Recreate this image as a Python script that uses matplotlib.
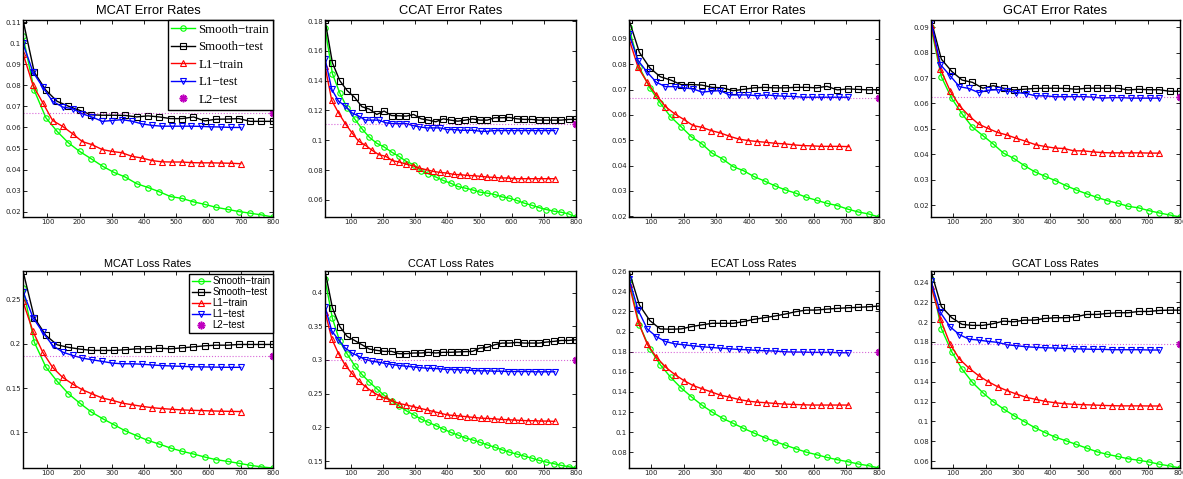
import matplotlib
matplotlib.use("Agg")
import matplotlib.pyplot as plt
import matplotlib.ticker as plticker

# x positions (smooth runs go to 800, L1 runs stop earlier)
mcat_x_smooth = [24, 59, 95, 130, 165, 200, 236, 271, 306, 341, 377, 412, 447, 482, 518, 553, 588, 623, 659, 694, 729, 764, 800]
mcat_x_l1 = [24, 55, 85, 116, 147, 178, 208, 239, 270, 301, 331, 362, 393, 424, 454, 485, 516, 547, 577, 608, 639, 670, 700]
ccat_x_smooth = [19, 42, 65, 88, 111, 134, 157, 180, 203, 226, 249, 272, 295, 318, 341, 364, 387, 410, 432, 455,
                 478, 501, 524, 547, 570, 593, 616, 639, 662, 685, 708, 731, 754, 777, 800]
ccat_x_l1 = [19, 40, 61, 82, 103, 124, 145, 166, 187, 208, 229, 250, 271, 292, 313, 335, 356, 377, 398, 419,
             440, 461, 482, 503, 524, 545, 566, 587, 608, 629, 650, 671, 692, 713, 734]
ecat_x_smooth = [31, 63, 95, 127, 159, 191, 223, 255, 287, 319, 351, 383, 415, 448, 480, 512, 544, 576, 608, 640, 672, 704, 736, 768, 800]
ecat_x_l1 = [31, 59, 87, 115, 143, 172, 200, 228, 256, 284, 312, 340, 368, 397, 425, 453, 481, 509, 537, 565, 593, 622, 650, 678, 706]
gcat_x_smooth = [31, 63, 95, 127, 159, 191, 223, 255, 287, 319, 351, 383, 415, 448, 480, 512, 544, 576, 608, 640, 672, 704, 736, 768, 800]
gcat_x_l1 = [31, 60, 90, 119, 148, 178, 207, 237, 266, 295, 325, 354, 383, 413, 442, 472, 501, 530, 560, 589, 618, 648, 677, 707, 736]

# ---- error rates ----
mcat_err_smooth_train = [0.1033, 0.0776, 0.0646, 0.0581, 0.0527, 0.0486, 0.0451, 0.0416, 0.0387, 0.0365, 0.0333, 0.0315, 0.0295,
                         0.0272, 0.0263, 0.0247, 0.0235, 0.0221, 0.0211, 0.0201, 0.0193, 0.0185, 0.0175]
mcat_err_smooth_test = [0.1110, 0.0862, 0.0777, 0.0724, 0.0701, 0.0681, 0.0660, 0.0658, 0.0658, 0.0657, 0.0650, 0.0655, 0.0650,
                        0.0642, 0.0642, 0.0650, 0.0631, 0.0639, 0.0640, 0.0642, 0.0629, 0.0629, 0.0629]
mcat_err_l1_train = [0.0951, 0.0800, 0.0718, 0.0633, 0.0605, 0.0570, 0.0533, 0.0518, 0.0495, 0.0486, 0.0480, 0.0463, 0.0455,
                     0.0443, 0.0437, 0.0436, 0.0436, 0.0433, 0.0432, 0.0432, 0.0431, 0.0430, 0.0428]
mcat_err_l1_test = [0.0999, 0.0863, 0.0792, 0.0724, 0.0697, 0.0689, 0.0665, 0.0649, 0.0629, 0.0633, 0.0637, 0.0630, 0.0617,
                    0.0610, 0.0606, 0.0606, 0.0606, 0.0606, 0.0605, 0.0603, 0.0602, 0.0600, 0.0600]
mcat_err_l2 = 0.0670

ccat_err_smooth_train = [0.1755, 0.1447, 0.1317, 0.1218, 0.1144, 0.1077, 0.1020, 0.0980, 0.0955, 0.0921, 0.0892, 0.0858,
                         0.0836, 0.0795, 0.0775, 0.0753, 0.0730, 0.0712, 0.0690, 0.0679, 0.0667, 0.0652, 0.0645, 0.0636,
                         0.0620, 0.0611, 0.0596, 0.0578, 0.0564, 0.0548, 0.0535, 0.0524, 0.0517, 0.0506, 0.0485]
ccat_err_smooth_test = [0.1807, 0.1520, 0.1400, 0.1333, 0.1288, 0.1225, 0.1209, 0.1173, 0.1196, 0.1166, 0.1164, 0.1162,
                        0.1173, 0.1144, 0.1135, 0.1124, 0.1144, 0.1135, 0.1128, 0.1135, 0.1144, 0.1135, 0.1135, 0.1151,
                        0.1151, 0.1153, 0.1144, 0.1140, 0.1140, 0.1135, 0.1135, 0.1135, 0.1135, 0.1140, 0.1140]
ccat_err_l1_train = [0.1499, 0.1267, 0.1184, 0.1112, 0.1049, 0.0993, 0.0966, 0.0932, 0.0903, 0.0892, 0.0863, 0.0854,
                     0.0840, 0.0829, 0.0813, 0.0802, 0.0791, 0.0784, 0.0780, 0.0771, 0.0769, 0.0764, 0.0762, 0.0758,
                     0.0753, 0.0751, 0.0747, 0.0747, 0.0742, 0.0742, 0.0742, 0.0742, 0.0742, 0.0742, 0.0742]
ccat_err_l1_test = [0.1548, 0.1342, 0.1263, 0.1229, 0.1184, 0.1162, 0.1135, 0.1135, 0.1135, 0.1117, 0.1112, 0.1112,
                    0.1112, 0.1099, 0.1090, 0.1083, 0.1083, 0.1083, 0.1072, 0.1072, 0.1067, 0.1067, 0.1067, 0.1060,
                    0.1060, 0.1065, 0.1065, 0.1065, 0.1065, 0.1065, 0.1065, 0.1065, 0.1065, 0.1065, 0.1065]
ccat_err_l2 = 0.1112

ecat_err_smooth_train = [0.0946, 0.0788, 0.0707, 0.0647, 0.0593, 0.0554, 0.0514, 0.0486, 0.0449, 0.0426, 0.0396, 0.0380,
                         0.0357, 0.0339, 0.0320, 0.0304, 0.0291, 0.0275, 0.0263, 0.0251, 0.0242, 0.0228, 0.0217, 0.0209, 0.0197]
ecat_err_smooth_test = [0.0975, 0.0847, 0.0786, 0.0751, 0.0738, 0.0720, 0.0720, 0.0718, 0.0709, 0.0707, 0.0696, 0.0701,
                        0.0707, 0.0709, 0.0707, 0.0707, 0.0709, 0.0709, 0.0707, 0.0713, 0.0699, 0.0703, 0.0701, 0.0699, 0.0700]
ecat_err_l1_train = [0.0900, 0.0788, 0.0729, 0.0679, 0.0633, 0.0604, 0.0582, 0.0558, 0.0551, 0.0538, 0.0529, 0.0516,
                     0.0505, 0.0499, 0.0495, 0.0492, 0.0488, 0.0486, 0.0482, 0.0479, 0.0478, 0.0476, 0.0476, 0.0476, 0.0475]
ecat_err_l1_test = [0.0920, 0.0815, 0.0769, 0.0729, 0.0712, 0.0712, 0.0707, 0.0703, 0.0690, 0.0694, 0.0696, 0.0679,
                    0.0679, 0.0679, 0.0676, 0.0679, 0.0676, 0.0674, 0.0673, 0.0670, 0.0670, 0.0670, 0.0670, 0.0670, 0.0670]
ecat_err_l2 = 0.0668

gcat_err_smooth_train = [0.0899, 0.0705, 0.0620, 0.0559, 0.0507, 0.0474, 0.0441, 0.0405, 0.0384, 0.0356, 0.0332, 0.0314,
                         0.0297, 0.0277, 0.0260, 0.0245, 0.0231, 0.0218, 0.0208, 0.0196, 0.0190, 0.0179, 0.0170, 0.0162, 0.0154]
gcat_err_smooth_test = [0.0928, 0.0774, 0.0726, 0.0692, 0.0683, 0.0660, 0.0670, 0.0660, 0.0653, 0.0656, 0.0659, 0.0660,
                        0.0660, 0.0659, 0.0656, 0.0660, 0.0660, 0.0660, 0.0660, 0.0653, 0.0656, 0.0654, 0.0654, 0.0648, 0.0648]
gcat_err_l1_train = [0.0910, 0.0736, 0.0650, 0.0591, 0.0552, 0.0519, 0.0502, 0.0486, 0.0476, 0.0463, 0.0451, 0.0438,
                     0.0431, 0.0425, 0.0423, 0.0414, 0.0414, 0.0410, 0.0407, 0.0406, 0.0406, 0.0406, 0.0406, 0.0405, 0.0405]
gcat_err_l1_test = [0.0925, 0.0753, 0.0709, 0.0666, 0.0659, 0.0643, 0.0652, 0.0654, 0.0650, 0.0643, 0.0639, 0.0630,
                    0.0630, 0.0627, 0.0627, 0.0627, 0.0627, 0.0625, 0.0621, 0.0623, 0.0623, 0.0621, 0.0621, 0.0621, 0.0621]
gcat_err_l2 = 0.0624

# ---- loss rates ----
mcat_loss_smooth_train = [0.2627, 0.2019, 0.1738, 0.1577, 0.1437, 0.1332, 0.1231, 0.1156, 0.1088, 0.1019, 0.0963, 0.0910,
                          0.0869, 0.0824, 0.0787, 0.0757, 0.0723, 0.0693, 0.0674, 0.0652, 0.0630, 0.0611, 0.0599]
mcat_loss_smooth_test = [0.2822, 0.2297, 0.2095, 0.1989, 0.1960, 0.1941, 0.1926, 0.1926, 0.1926, 0.1933, 0.1944, 0.1944,
                         0.1951, 0.1944, 0.1955, 0.1966, 0.1978, 0.1985, 0.1985, 0.1993, 0.1993, 0.1993, 0.1993]
mcat_loss_l1_train = [0.2478, 0.2140, 0.1907, 0.1734, 0.1622, 0.1546, 0.1482, 0.1434, 0.1389, 0.1363, 0.1332, 0.1313,
                      0.1295, 0.1280, 0.1270, 0.1262, 0.1255, 0.1250, 0.1247, 0.1243, 0.1240, 0.1238, 0.1236]
mcat_loss_l1_test = [0.2590, 0.2297, 0.2132, 0.1982, 0.1907, 0.1869, 0.1839, 0.1820, 0.1802, 0.1783, 0.1775, 0.1775,
                     0.1770, 0.1762, 0.1755, 0.1750, 0.1746, 0.1742, 0.1740, 0.1738, 0.1736, 0.1735, 0.1735]
mcat_loss_l2 = 0.1858

ccat_loss_smooth_train = [0.4196, 0.3618, 0.3275, 0.3088, 0.2917, 0.2784, 0.2672, 0.2574, 0.2475, 0.2392, 0.2319, 0.2245,
                          0.2186, 0.2123, 0.2074, 0.2025, 0.1975, 0.1926, 0.1887, 0.1843, 0.1814, 0.1779, 0.1740, 0.1706,
                          0.1667, 0.1632, 0.1603, 0.1574, 0.1544, 0.1510, 0.1485, 0.1461, 0.1436, 0.1417, 0.1397]
ccat_loss_smooth_test = [0.4319, 0.3775, 0.3495, 0.3348, 0.3289, 0.3225, 0.3162, 0.3142, 0.3127, 0.3127, 0.3093, 0.3093,
                         0.3103, 0.3103, 0.3113, 0.3103, 0.3113, 0.3113, 0.3118, 0.3123, 0.3127, 0.3176, 0.3186, 0.3225,
                         0.3250, 0.3250, 0.3260, 0.3250, 0.3250, 0.3250, 0.3265, 0.3275, 0.3289, 0.3289, 0.3299]
ccat_loss_l1_train = [0.3716, 0.3314, 0.3093, 0.2922, 0.2799, 0.2686, 0.2603, 0.2529, 0.2470, 0.2431, 0.2392, 0.2353,
                      0.2333, 0.2309, 0.2284, 0.2260, 0.2235, 0.2211, 0.2186, 0.2176, 0.2167, 0.2157, 0.2147, 0.2137,
                      0.2132, 0.2127, 0.2118, 0.2113, 0.2108, 0.2103, 0.2098, 0.2098, 0.2093, 0.2093, 0.2088]
ccat_loss_l1_test = [0.3789, 0.3431, 0.3299, 0.3176, 0.3103, 0.3054, 0.3005, 0.2980, 0.2966, 0.2946, 0.2931, 0.2917,
                     0.2907, 0.2897, 0.2887, 0.2877, 0.2873, 0.2868, 0.2858, 0.2858, 0.2853, 0.2848, 0.2843, 0.2838,
                     0.2838, 0.2833, 0.2833, 0.2828, 0.2828, 0.2828, 0.2828, 0.2824, 0.2824, 0.2824, 0.2824]
ccat_loss_l2 = 0.3005

ecat_loss_smooth_train = [0.2509, 0.2066, 0.1829, 0.1671, 0.1546, 0.1441, 0.1352, 0.1270, 0.1200, 0.1138, 0.1089, 0.1039,
                          0.0993, 0.0947, 0.0908, 0.0872, 0.0836, 0.0803, 0.0777, 0.0750, 0.0727, 0.0708, 0.0685, 0.0668, 0.0645]
ecat_loss_smooth_test = [0.2601, 0.2263, 0.2109, 0.2026, 0.2023, 0.2026, 0.2049, 0.2066, 0.2082, 0.2082, 0.2082, 0.2098,
                         0.2121, 0.2138, 0.2154, 0.2174, 0.2197, 0.2213, 0.2213, 0.2223, 0.2230, 0.2236, 0.2240, 0.2246, 0.2253]
ecat_loss_l1_train = [0.2476, 0.2099, 0.1875, 0.1747, 0.1648, 0.1573, 0.1513, 0.1464, 0.1431, 0.1401, 0.1368, 0.1349,
                      0.1326, 0.1309, 0.1299, 0.1293, 0.1286, 0.1280, 0.1276, 0.1273, 0.1270, 0.1270, 0.1270, 0.1270, 0.1270]
ecat_loss_l1_test = [0.2525, 0.2213, 0.2026, 0.1950, 0.1901, 0.1878, 0.1868, 0.1858, 0.1849, 0.1842, 0.1835, 0.1829,
                     0.1822, 0.1819, 0.1812, 0.1809, 0.1806, 0.1799, 0.1796, 0.1796, 0.1793, 0.1793, 0.1793, 0.1790, 0.1789]
ecat_loss_l2 = 0.1800

gcat_loss_smooth_train = [0.2432, 0.1935, 0.1701, 0.1527, 0.1393, 0.1290, 0.1200, 0.1126, 0.1059, 0.0999, 0.0939, 0.0889,
                          0.0842, 0.0806, 0.0769, 0.0732, 0.0695, 0.0669, 0.0648, 0.0625, 0.0610, 0.0593, 0.0570, 0.0553, 0.0532]
gcat_loss_smooth_test = [0.2514, 0.2156, 0.2044, 0.1977, 0.1967, 0.1967, 0.1984, 0.2010, 0.2003, 0.2020, 0.2020, 0.2037,
                         0.2044, 0.2044, 0.2054, 0.2077, 0.2077, 0.2087, 0.2094, 0.2094, 0.2107, 0.2107, 0.2117, 0.2120, 0.2120]
gcat_loss_l1_train = [0.2365, 0.2030, 0.1779, 0.1628, 0.1538, 0.1461, 0.1401, 0.1350, 0.1310, 0.1276, 0.1243, 0.1223,
                      0.1203, 0.1189, 0.1179, 0.1173, 0.1169, 0.1166, 0.1162, 0.1159, 0.1157, 0.1157, 0.1157, 0.1156, 0.1156]
gcat_loss_l1_test = [0.2409, 0.2097, 0.1953, 0.1873, 0.1829, 0.1819, 0.1806, 0.1796, 0.1772, 0.1762, 0.1752, 0.1746,
                     0.1742, 0.1739, 0.1736, 0.1732, 0.1729, 0.1726, 0.1726, 0.1722, 0.1722, 0.1722, 0.1722, 0.1719, 0.1719]
gcat_loss_l2 = 0.1780

labels = ['Smooth\u2212train', 'Smooth\u2212test', 'L1\u2212train', 'L1\u2212test', 'L2\u2212test']
L2_X = 800

W, H = 1183, 479
fig = plt.figure(figsize=(W / 100, H / 100), dpi=100)
fig.patch.set_facecolor('white')

cols = [(23, 273), (325, 576), (629, 879), (931, 1180)]
rows = [(20, 217), (271, 468)]

panels = [
    # row, col, title, xs, xl, st, sv, lt, lv, l2, ystep
    (0, 0, 'MCAT Error Rates', mcat_x_smooth, mcat_x_l1, mcat_err_smooth_train, mcat_err_smooth_test, mcat_err_l1_train, mcat_err_l1_test, mcat_err_l2, 0.01),
    (0, 1, 'CCAT Error Rates', ccat_x_smooth, ccat_x_l1, ccat_err_smooth_train, ccat_err_smooth_test, ccat_err_l1_train, ccat_err_l1_test, ccat_err_l2, 0.02),
    (0, 2, 'ECAT Error Rates', ecat_x_smooth, ecat_x_l1, ecat_err_smooth_train, ecat_err_smooth_test, ecat_err_l1_train, ecat_err_l1_test, ecat_err_l2, 0.01),
    (0, 3, 'GCAT Error Rates', gcat_x_smooth, gcat_x_l1, gcat_err_smooth_train, gcat_err_smooth_test, gcat_err_l1_train, gcat_err_l1_test, gcat_err_l2, 0.01),
    (1, 0, 'MCAT Loss Rates', mcat_x_smooth, mcat_x_l1, mcat_loss_smooth_train, mcat_loss_smooth_test, mcat_loss_l1_train, mcat_loss_l1_test, mcat_loss_l2, 0.05),
    (1, 1, 'CCAT Loss Rates', ccat_x_smooth, ccat_x_l1, ccat_loss_smooth_train, ccat_loss_smooth_test, ccat_loss_l1_train, ccat_loss_l1_test, ccat_loss_l2, 0.05),
    (1, 2, 'ECAT Loss Rates', ecat_x_smooth, ecat_x_l1, ecat_loss_smooth_train, ecat_loss_smooth_test, ecat_loss_l1_train, ecat_loss_l1_test, ecat_loss_l2, 0.02),
    (1, 3, 'GCAT Loss Rates', gcat_x_smooth, gcat_x_l1, gcat_loss_smooth_train, gcat_loss_smooth_test, gcat_loss_l1_train, gcat_loss_l1_test, gcat_loss_l2, 0.02),
]

fmt = plticker.FuncFormatter(lambda v, p: '%g' % round(v, 6))
line_kw = dict(lw=1.0, ms=3.9, mew=0.8, mfc='none')

for r, c, title, xs, xl, st, sv, lt, lv, l2, ystep in panels:
    x0, x1 = cols[c]
    y0, y1 = rows[r]
    ax = fig.add_axes([x0 / W, 1 - y1 / H, (x1 - x0) / W, (y1 - y0) / H])

    ax.plot(xs, st, '-o', color=(0, 1, 0), label=labels[0], **line_kw)
    ax.plot(xs, sv, '-s', color='k', label=labels[1], **line_kw)
    ax.plot(xl, lt, '-^', color='r', label=labels[2], **line_kw)
    ax.plot(xl, lv, '-v', color='b', label=labels[3], **line_kw)
    ax.axhline(l2, color='m', ls=':', lw=0.8, alpha=0.6)
    ax.plot([L2_X], [l2], ls='none', marker=(8, 2, 0), color='m', ms=5.5, mew=1.2, label=labels[4])

    allv = st + sv + lt + lv + [l2]
    ax.set_xlim(xs[0], L2_X)
    ax.set_ylim(min(allv), max(allv))
    ax.xaxis.set_major_locator(plticker.MultipleLocator(100))
    ax.yaxis.set_major_locator(plticker.MultipleLocator(ystep))
    ax.yaxis.set_major_formatter(fmt)
    ax.tick_params(direction='in', length=3, width=0.6, labelsize=5, top=True, right=True,
                   pad=1.5, labelcolor='#222222')
    for sp in ax.spines.values():
        sp.set_linewidth(1.0)

    if r == 0:
        ax.set_title(title, fontsize=9.3, family='Liberation Sans', pad=4)
    else:
        ax.set_title(title, fontsize=7.8, family='Liberation Sans', pad=3)

    if c == 0:
        if r == 0:
            ax.legend(loc='upper right', borderaxespad=0, fancybox=False, edgecolor='k', framealpha=1,
                      prop={'family': 'Liberation Serif', 'size': 9.3}, handlelength=1.8,
                      handletextpad=0.3, labelspacing=0.42, borderpad=0.3)
        else:
            ax.legend(loc='upper right', bbox_to_anchor=(1, 1 - 3 / 197), borderaxespad=0, fancybox=False,
                      edgecolor='k', framealpha=1, prop={'family': 'Liberation Sans', 'size': 7.0},
                      handlelength=1.9, handletextpad=0.25, labelspacing=0.1, borderpad=0.25)

fig.savefig('out.png', dpi=100)
